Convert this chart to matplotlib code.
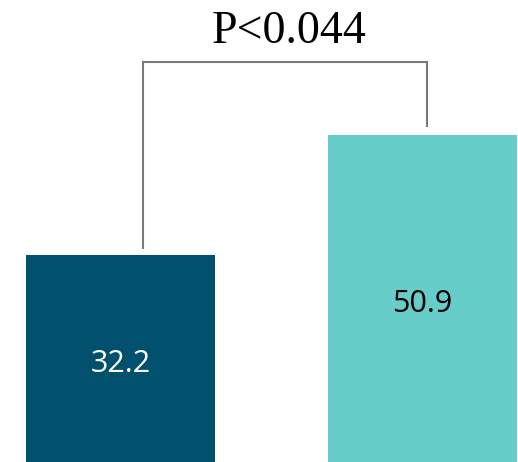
import matplotlib.pyplot as plt

groups = ['A', 'B']
values = [32.2, 50.9]
labels = ['32.2', '50.9']
colors = ['#00506E', '#66CDC8']
label_colors = ['white', 'black']
p_text = 'P<0.044'

fig = plt.figure(figsize=(5.18, 4.62), dpi=100)
ax = fig.add_axes([0, 0, 1, 1])

x = range(len(values))
ax.bar(x, values, width=0.626, color=colors)
for i, v in enumerate(values):
    ax.text(i, v / 2 - 0.8, labels[i], ha='center', va='center', color=label_colors[i],
            fontsize=22, family='Open Sans')

# significance bracket
bl, br = 0.0745, 1.015
ax.plot([bl, bl, br, br], [values[0] + 1.2, 62.3, 62.3, values[1] + 1.4],
        color='#7a7a7a', lw=1.5, solid_joinstyle='miter')
ax.text((bl + br) / 2 + 0.015, 65.3, p_text, ha='center', va='baseline',
        fontsize=33, family='Liberation Serif')

ax.set_xlim(-0.399, 1.316)
ax.set_ylim(0, 72)
ax.axis('off')

fig.savefig('out.png', dpi=100)
